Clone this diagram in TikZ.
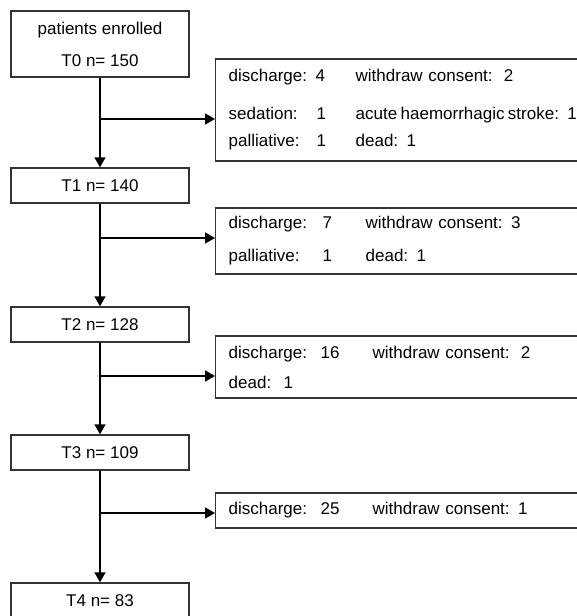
\documentclass[tikz,border=0pt]{standalone}
\usepackage{fontspec}
\setmainfont{Liberation Sans}
\usetikzlibrary{arrows.meta}
\begin{document}
\begin{tikzpicture}[x=.5pt,y=-.5pt,>={Triangle[length=5pt,width=5.5pt]},
  font=\fontsize{8.5}{15}\selectfont,line width=.7pt,
  stage/.style={draw=black!80,minimum width=89pt,minimum height=17.5pt,inner sep=0pt,align=center},
  lost/.style={draw=black!80,anchor=west,minimum width=192.5pt,inner xsep=6.5pt,inner ysep=0pt,
    text width=179.5pt,align=left}]
 \clip (0,0) rectangle (577,616);
 \node[stage,minimum height=33pt] (t0) at (100,44) {patients enrolled\\[1pt]T0 n= 150};
 \node[stage] (t1) at (100,185.5) {T1 n= 140};
 \node[stage] (t2) at (100,324.5) {T2 n= 128};
 \node[stage] (t3) at (100,452.5) {T3 n= 109};
 \node[stage] (t4) at (100,600.5) {T4 n= 83};
 \node[lost,minimum height=51pt] (d1) at (215,110) {%
    \makebox[63.5pt][l]{discharge: 4}withdraw consent:\ \ 2\\[4pt]
    \makebox[44pt][l]{sedation:}\makebox[19.5pt][l]{1}{\spaceskip=.2em acute haemorrhagic stroke: 1}\\[-1.5pt]
    \makebox[44pt][l]{palliative:}\makebox[19.5pt][l]{1}dead: 1};
 \node[lost,minimum height=33pt] (d2) at (215,241) {%
    \makebox[47pt][l]{discharge:}\makebox[21.5pt][l]{7}withdraw consent: 3\\[1.5pt]
    \makebox[47pt][l]{palliative:}\makebox[21.5pt][l]{1}dead: 1};
 \node[lost,minimum height=31pt] (d3) at (215,367) {%
    \makebox[46pt][l]{discharge:}\makebox[26pt][l]{16}withdraw consent:\ \ 2\\
    \makebox[27.5pt][l]{dead:}1};
 \node[lost,minimum height=17.5pt] (d4) at (215,510.5) {%
    \makebox[46pt][l]{discharge:}\makebox[26pt][l]{25}withdraw consent: 1};
 % branch points on the main line
 \coordinate (b1) at (100,119);
 \coordinate (b2) at (100,238);
 \coordinate (b3) at (100,376);
 \coordinate (b4) at (100,513);
 \foreach \a/\b in {t0/t1,t1/t2,t2/t3,t3/t4}
    \draw[->] (\a) -- (\b);
 \foreach \i in {1,...,4}
    \draw[->] (b\i) -- (b\i -| d\i.west);
\end{tikzpicture}
\end{document}
